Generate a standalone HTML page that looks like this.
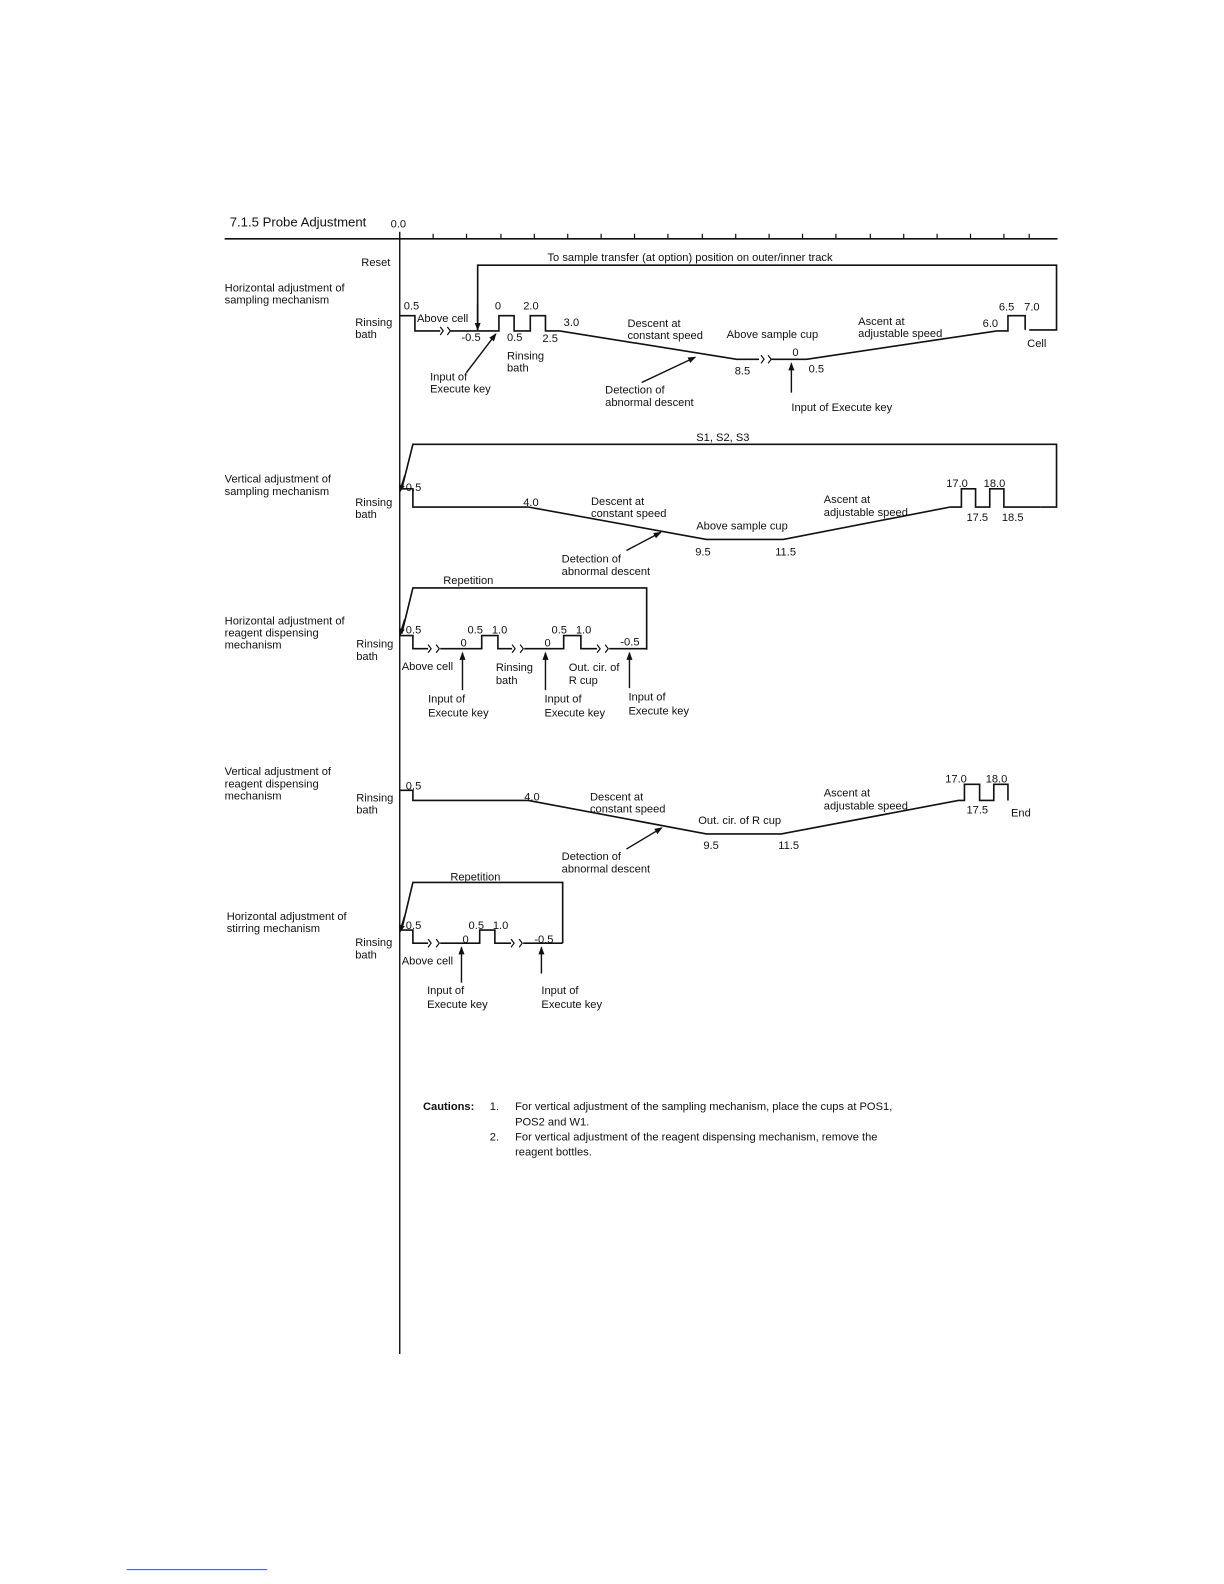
<!DOCTYPE html>
<html><head><meta charset="utf-8"><style>
html,body{margin:0;padding:0;background:#fff;}
svg{display:block}
text{font-family:"Liberation Sans",Arial,sans-serif;font-size:11px;fill:#111}
</style></head><body>
<svg width="1224" height="1584" viewBox="0 0 1224 1584" xmlns="http://www.w3.org/2000/svg">
<defs><marker id="a" markerWidth="8" markerHeight="8" refX="7" refY="4" orient="auto" markerUnits="userSpaceOnUse"><path d="M0,1 L8,4 L0,7 z" fill="#111"/></marker></defs>
<g transform="scale(1.012)" stroke="#111" fill="none" stroke-width="1.6">
<line x1="222" y1="236" x2="1045" y2="236"/>
<line x1="395" y1="229" x2="395" y2="1338" stroke-width="1.4"/>
<path d="M428 236v-5M461 236v-5M495 236v-5M528 236v-5M561 236v-5M594 236v-5M627 236v-5M660 236v-5M694 236v-5M727 236v-5M760 236v-5M793 236v-5M826 236v-5M860 236v-5M893 236v-5M926 236v-5M959 236v-5M992 236v-5M1017 236v-5" stroke-width="1.2"/>
<path d="M472 326 V262 H1044 V326 H1017" />
<line x1="472" y1="300" x2="472" y2="326" marker-end="url(#a)"/>
<path d="M395 312 H410 V327 H435 M445 327 H493 V312 H508 V327 H524 V312 H539 V327 H553 L728 355 H750 M762 355 H797 L985 327 H996 V312 H1013 V326"/>
<path d="M435 323 l3 4 l-3 4 M442 323 l3 4 l-3 4 M752 351 l3 4 l-3 4 M759 351 l3 4 l-3 4" stroke-width="1.2"/>
<line x1="461" y1="368" x2="490" y2="330" marker-end="url(#a)" stroke-width="1.4"/>
<line x1="634" y1="378" x2="687" y2="353" marker-end="url(#a)" stroke-width="1.4"/>
<line x1="782" y1="388" x2="782" y2="359" marker-end="url(#a)" stroke-width="1.4"/>
<path d="M1028 501 H1044 V439 H408 L397 483"/>
<line x1="400" y1="470" x2="395" y2="486" marker-end="url(#a)"/>
<path d="M395 483 H408 V501 H522 L698 533 H774 L939 501 H950 V483 H964 V501 H978 V483 H992 V501 H1028"/>
<line x1="619" y1="544" x2="653" y2="526" marker-end="url(#a)" stroke-width="1.4"/>
<path d="M639 642 V581 H408 L397 626"/>
<line x1="400" y1="612" x2="395" y2="628" marker-end="url(#a)"/>
<path d="M395 628 H408 V641 H423 M435 641 H476 V628 H492 V641 H506 M518 641 H557 V628 H574 V641 H590 M602 641 H639"/>
<path d="M423 637 l3 4 l-3 4 M431 637 l3 4 l-3 4 M506 637 l3 4 l-3 4 M514 637 l3 4 l-3 4 M590 637 l3 4 l-3 4 M598 637 l3 4 l-3 4" stroke-width="1.2"/>
<line x1="457" y1="682" x2="457" y2="645" marker-end="url(#a)" stroke-width="1.4"/>
<line x1="539" y1="682" x2="539" y2="645" marker-end="url(#a)" stroke-width="1.4"/>
<line x1="622" y1="680" x2="622" y2="645" marker-end="url(#a)" stroke-width="1.4"/>
<path d="M395 781 H408 V791 H522 L698 824 H772 L947 791 H953 V775 H968 V791 H982 V775 H996 V791"/>
<line x1="619" y1="839" x2="654" y2="818" marker-end="url(#a)" stroke-width="1.4"/>
<path d="M556 932 V872 H408 L397 918"/>
<line x1="400" y1="905" x2="395" y2="921" marker-end="url(#a)"/>
<path d="M395 919 H408 V932 H423 M435 932 H474 V919 H489 V932 H505 M517 932 H556"/>
<path d="M423 928 l3 4 l-3 4 M431 928 l3 4 l-3 4 M505 928 l3 4 l-3 4 M513 928 l3 4 l-3 4" stroke-width="1.2"/>
<line x1="456" y1="971" x2="456" y2="936" marker-end="url(#a)" stroke-width="1.4"/>
<line x1="535" y1="962" x2="535" y2="936" marker-end="url(#a)" stroke-width="1.4"/>
<line x1="125" y1="1551" x2="264" y2="1551" stroke="#3355cc" stroke-width="1"/>
</g>
<g transform="scale(1.012)">
<text x="227" y="224" style="font-size:13px">7.1.5 Probe Adjustment</text>
<text x="386" y="225">0.0</text>
<text x="357" y="263">Reset</text>
<text x="541" y="258">To sample transfer (at option) position on outer/inner track</text>
<text x="222" y="288">Horizontal adjustment of</text><text x="222" y="300">sampling mechanism</text>
<text x="351" y="322">Rinsing</text><text x="351" y="334">bath</text>
<text x="399" y="306">0.5</text><text x="412" y="318">Above cell</text>
<text x="456" y="337">-0.5</text><text x="489" y="306">0</text><text x="517" y="306">2.0</text>
<text x="501" y="337">0.5</text><text x="536" y="338">2.5</text><text x="557" y="322">3.0</text>
<text x="501" y="355">Rinsing</text><text x="501" y="367">bath</text>
<text x="425" y="376">Input of</text><text x="425" y="388">Execute key</text>
<text x="620" y="323">Descent at</text><text x="620" y="335">constant speed</text>
<text x="718" y="334">Above sample cup</text>
<text x="598" y="389">Detection of</text><text x="598" y="401">abnormal descent</text>
<text x="726" y="370">8.5</text><text x="783" y="352">0</text><text x="799" y="368">0.5</text>
<text x="782" y="406">Input of Execute key</text>
<text x="848" y="321">Ascent at</text><text x="848" y="333">adjustable speed</text>
<text x="971" y="323">6.0</text><text x="987" y="307">6.5</text><text x="1012" y="307">7.0</text>
<text x="1015" y="343">Cell</text>
<text x="688" y="436">S1, S2, S3</text>
<text x="222" y="477">Vertical adjustment of</text><text x="222" y="489">sampling mechanism</text>
<text x="351" y="500">Rinsing</text><text x="351" y="512">bath</text>
<text x="401" y="485">0.5</text><text x="517" y="500">4.0</text>
<text x="584" y="499">Descent at</text><text x="584" y="511">constant speed</text>
<text x="688" y="523">Above sample cup</text>
<text x="555" y="556">Detection of</text><text x="555" y="568">abnormal descent</text>
<text x="687" y="549">9.5</text><text x="766" y="549">11.5</text>
<text x="814" y="497">Ascent at</text><text x="814" y="510">adjustable speed</text>
<text x="935" y="481">17.0</text><text x="972" y="481">18.0</text>
<text x="955" y="515">17.5</text><text x="990" y="515">18.5</text>
<text x="438" y="577">Repetition</text>
<text x="222" y="617">Horizontal adjustment of</text><text x="222" y="629">reagent dispensing</text><text x="222" y="641">mechanism</text>
<text x="352" y="640">Rinsing</text><text x="352" y="652">bath</text>
<text x="401" y="626">0.5</text><text x="455" y="639">0</text><text x="462" y="626">0.5</text><text x="486" y="626">1.0</text>
<text x="538" y="639">0</text><text x="545" y="626">0.5</text><text x="569" y="626">1.0</text><text x="613" y="638">-0.5</text>
<text x="397" y="662">Above cell</text><text x="490" y="663">Rinsing</text><text x="490" y="676">bath</text>
<text x="562" y="663">Out. cir. of</text><text x="562" y="676">R cup</text>
<text x="423" y="694">Input of</text><text x="423" y="708">Execute key</text>
<text x="538" y="694">Input of</text><text x="538" y="708">Execute key</text>
<text x="621" y="692">Input of</text><text x="621" y="706">Execute key</text>
<text x="222" y="766">Vertical adjustment of</text><text x="222" y="778">reagent dispensing</text><text x="222" y="790">mechanism</text>
<text x="352" y="792">Rinsing</text><text x="352" y="804">bath</text>
<text x="401" y="780">0.5</text><text x="518" y="791">4.0</text>
<text x="583" y="791">Descent at</text><text x="583" y="803">constant speed</text>
<text x="690" y="814">Out. cir. of R cup</text>
<text x="555" y="850">Detection of</text><text x="555" y="862">abnormal descent</text>
<text x="695" y="839">9.5</text><text x="769" y="839">11.5</text>
<text x="814" y="787">Ascent at</text><text x="814" y="800">adjustable speed</text>
<text x="934" y="773">17.0</text><text x="974" y="773">18.0</text><text x="955" y="804">17.5</text>
<text x="999" y="807">End</text>
<text x="445" y="870">Repetition</text>
<text x="224" y="909">Horizontal adjustment of</text><text x="224" y="921">stirring mechanism</text>
<text x="351" y="935">Rinsing</text><text x="351" y="947">bath</text>
<text x="401" y="918">0.5</text><text x="457" y="932">0</text><text x="463" y="918">0.5</text><text x="487" y="918">1.0</text>
<text x="528" y="932">-0.5</text><text x="397" y="953">Above cell</text>
<text x="422" y="982">Input of</text><text x="422" y="996">Execute key</text>
<text x="535" y="982">Input of</text><text x="535" y="996">Execute key</text>
<text x="418" y="1097" style="font-weight:bold">Cautions:</text>
<text x="484" y="1097">1.</text><text x="509" y="1097">For vertical adjustment of the sampling mechanism, place the cups at POS1,</text>
<text x="509" y="1112">POS2 and W1.</text>
<text x="484" y="1127">2.</text><text x="509" y="1127">For vertical adjustment of the reagent dispensing mechanism, remove the</text>
<text x="509" y="1142">reagent bottles.</text>
</g>
</svg>
</body></html>
